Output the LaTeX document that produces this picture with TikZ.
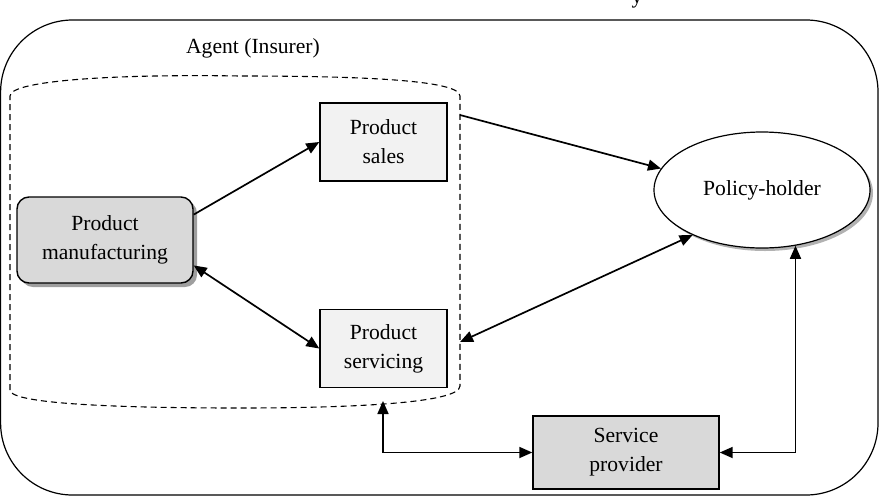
\documentclass[tikz,border=0pt]{standalone}
\usepackage{fontspec}
\setmainfont{Liberation Serif}
\usetikzlibrary{arrows.meta,shadows,shapes.geometric}

\begin{document}
\begin{tikzpicture}[x=1pt,y=-1pt,
	font=\fontsize{21.6}{29}\selectfont,
	>={Triangle[length=13pt,width=11pt]},
	link/.style={line width=1.7pt},
	darkbox/.style={draw, line width=1.4pt, fill=gray!30, align=center},
	lightbox/.style={draw, line width=1.4pt, fill=gray!10, align=center,
		minimum width=127pt, minimum height=78pt},
	shade/.style={drop shadow={shadow xshift=4pt, shadow yshift=-4pt, fill=gray!75, opacity=1}}]
	\useasboundingbox (0,0) rectangle (882,496);
	% Frame
	\draw [line width=1.2pt, rounded corners=72pt] (0.6,20) rectangle (878,495);
	\node [anchor=base] (cut) at (637,3) {y};
	% Agent
	\node (agent) at (253,48) {Agent (Insurer)};
	\draw [line width=1.1pt, dash pattern=on 6pt off 4pt]
		(10,390) -- (10,96) .. controls (10,80) and (120,74) .. (240,76)
		.. controls (360,76) and (460,80) .. (460,96) -- (460,386)
		.. controls (460,404) and (340,408) .. (240,408)
		.. controls (120,408) and (10,404) .. (10,390);
	% Boxes
	\node [darkbox, shade, rounded corners=12pt, minimum width=176pt, minimum height=86pt]
		(manuf) at (105,240) {Product\\manufacturing};
	\node [lightbox] (sales) at (383.5,142) {Product\\sales};
	\node [lightbox] (servicing) at (383.5,348.5) {Product\\servicing};
	\node [darkbox, minimum width=186pt, minimum height=73pt]
		(provider) at (626,452.5) {Service\\provider};
	\node [draw, ellipse, line width=1.2pt, fill=white, minimum width=216pt, minimum height=116pt,
		drop shadow={shadow xshift=3pt, shadow yshift=-3pt, fill=gray!60, opacity=1}]
		(holder) at (762,190) {Policy-holder};
	% Edge points
	\coordinate (salesout) at (460,115);
	\coordinate (servout) at (460,342);
	\coordinate (agentbot) at (383,401);
	% Links
	\draw [link, ->] (manuf.16) -- (sales.west);
	\draw [link, <->] (manuf.-16) -- (servicing.west);
	\draw [link, ->] (salesout) -- (holder.168);
	\draw [link, <->] (servout) -- (holder.213);
	\draw [link, <->] (agentbot) |- (provider.west);
	\draw [link, <->] (provider.east) -| (holder.301);
\end{tikzpicture}
\end{document}
